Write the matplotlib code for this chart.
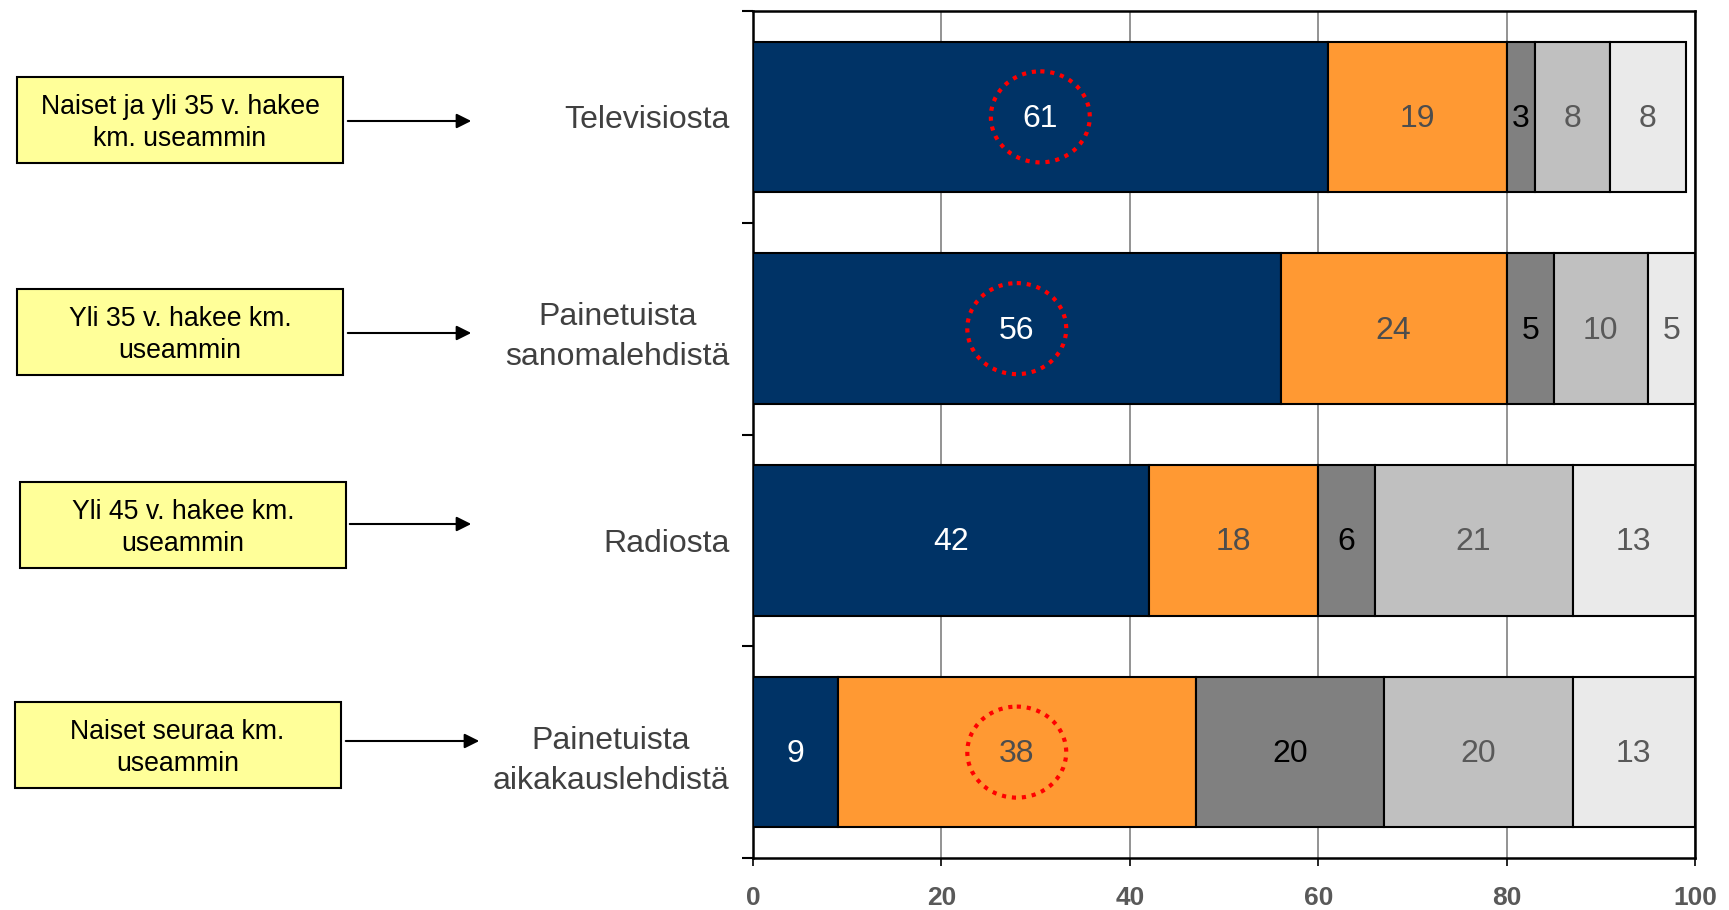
import matplotlib
matplotlib.use("Agg")
import matplotlib.pyplot as plt
from matplotlib.patches import Rectangle, Ellipse, FancyArrowPatch
import numpy as np

plt.rcParams['font.family'] = ['Liberation Sans', 'DejaVu Sans']

categories = ["Televisiosta", "Painetuista\nsanomalehdistä", "Radiosta", "Painetuista\naikakauslehdistä"]
series = [
    [61, 56, 42, 9],
    [19, 24, 18, 38],
    [3, 5, 6, 20],
    [8, 10, 21, 20],
    [8, 5, 13, 13],
]
colors = ["#003366", "#FF9933", "#808080", "#C0C0C0", "#EAEAEA"]
text_colors = ["white", "#4D4D4D", "black", "#595959", "#595959"]
highlight = [(0, 0), (0, 1), (1, 3)]  # (series, category) circled
box_texts = ["Naiset ja yli 35 v. hakee\nkm. useammin",
             "Yli 35 v. hakee km.\nuseammin",
             "Yli 45 v. hakee km.\nuseammin",
             "Naiset seuraa km.\nuseammin"]
xticks = [0, 20, 40, 60, 80, 100]

W, H = 1729, 910
fig = plt.figure(figsize=(W / 100, H / 100), dpi=100)
ax = fig.add_axes([753 / W, 1 - 858 / H, (1695 - 753) / W, (858 - 11) / H])

y = np.arange(len(categories))
left = np.zeros(len(categories))
for si, vals in enumerate(series):
    vals = np.array(vals, dtype=float)
    ax.barh(y, vals, left=left, height=0.71, color=colors[si], edgecolor="black",
            linewidth=1.5, zorder=3)
    for ci, v in enumerate(vals):
        ax.text(left[ci] + v / 2, y[ci] + 0.01, f"{int(v)}", ha="center", va="center",
                fontsize=23, color=text_colors[si], zorder=5)
    left += vals

cum = np.cumsum(np.array(series, dtype=float), axis=0)
for si, ci in highlight:
    start = cum[si - 1][ci] if si > 0 else 0
    cx = start + series[si][ci] / 2
    ax.add_patch(Ellipse((cx, y[ci]), 10.5, 0.43, fill=False, edgecolor="#FF0000",
                         linestyle=(0, (1, 1.4)), linewidth=3, zorder=6))

ax.set_xlim(0, 100)
ax.set_ylim(len(categories) - 0.5, -0.5)
ax.set_xticks(xticks)
ax.set_xticklabels([str(t) for t in xticks], fontsize=19, fontweight="bold", color="#595959")
ax.tick_params(axis="x", direction="out", length=6, width=1.2, pad=14)
ax.xaxis.grid(True, color="#808080", linewidth=1.2, zorder=0)
ax.set_axisbelow(True)

ax.set_yticks(np.arange(-0.5, len(categories) + 0.5, 1))
ax.set_yticklabels([])
ax.tick_params(axis="y", which="major", direction="out", length=8, width=1.5)
ax.set_yticks(y, minor=True)
ax.set_yticklabels(categories, minor=True, fontsize=23, color="#404040",
                   multialignment="center", linespacing=1.45)
ax.tick_params(axis="y", which="minor", length=0, pad=17)

for s in ax.spines.values():
    s.set_linewidth(1.8)
    s.set_color("black")

# left annotation boxes
box_w, box_h = 326, 86
box_cx = [180, 180, 183, 177.5]
box_cy = [120, 332, 525, 745]
arrow_x = [(345, 474), (345, 474), (347, 474), (343, 482)]
arrow_y = [121, 333, 524, 741]
for i, t in enumerate(box_texts):
    x0 = (box_cx[i] - box_w / 2) / W
    y0 = 1 - (box_cy[i] + box_h / 2) / H
    fig.patches.append(Rectangle((x0, y0), box_w / W, box_h / H, transform=fig.transFigure,
                                 facecolor="#FFFF99", edgecolor="black", linewidth=1.5))
    fig.text(box_cx[i] / W, 1 - (box_cy[i] + 3) / H, t, ha="center", va="center",
             fontsize=19.2, color="black", linespacing=1.29)
    ar = FancyArrowPatch((arrow_x[i][0] / W, 1 - arrow_y[i] / H),
                         (arrow_x[i][1] / W, 1 - arrow_y[i] / H),
                         transform=fig.transFigure, arrowstyle="-|>", mutation_scale=22,
                         color="black", linewidth=1.5)
    fig.patches.append(ar)

fig.savefig("out.png", dpi=100)
